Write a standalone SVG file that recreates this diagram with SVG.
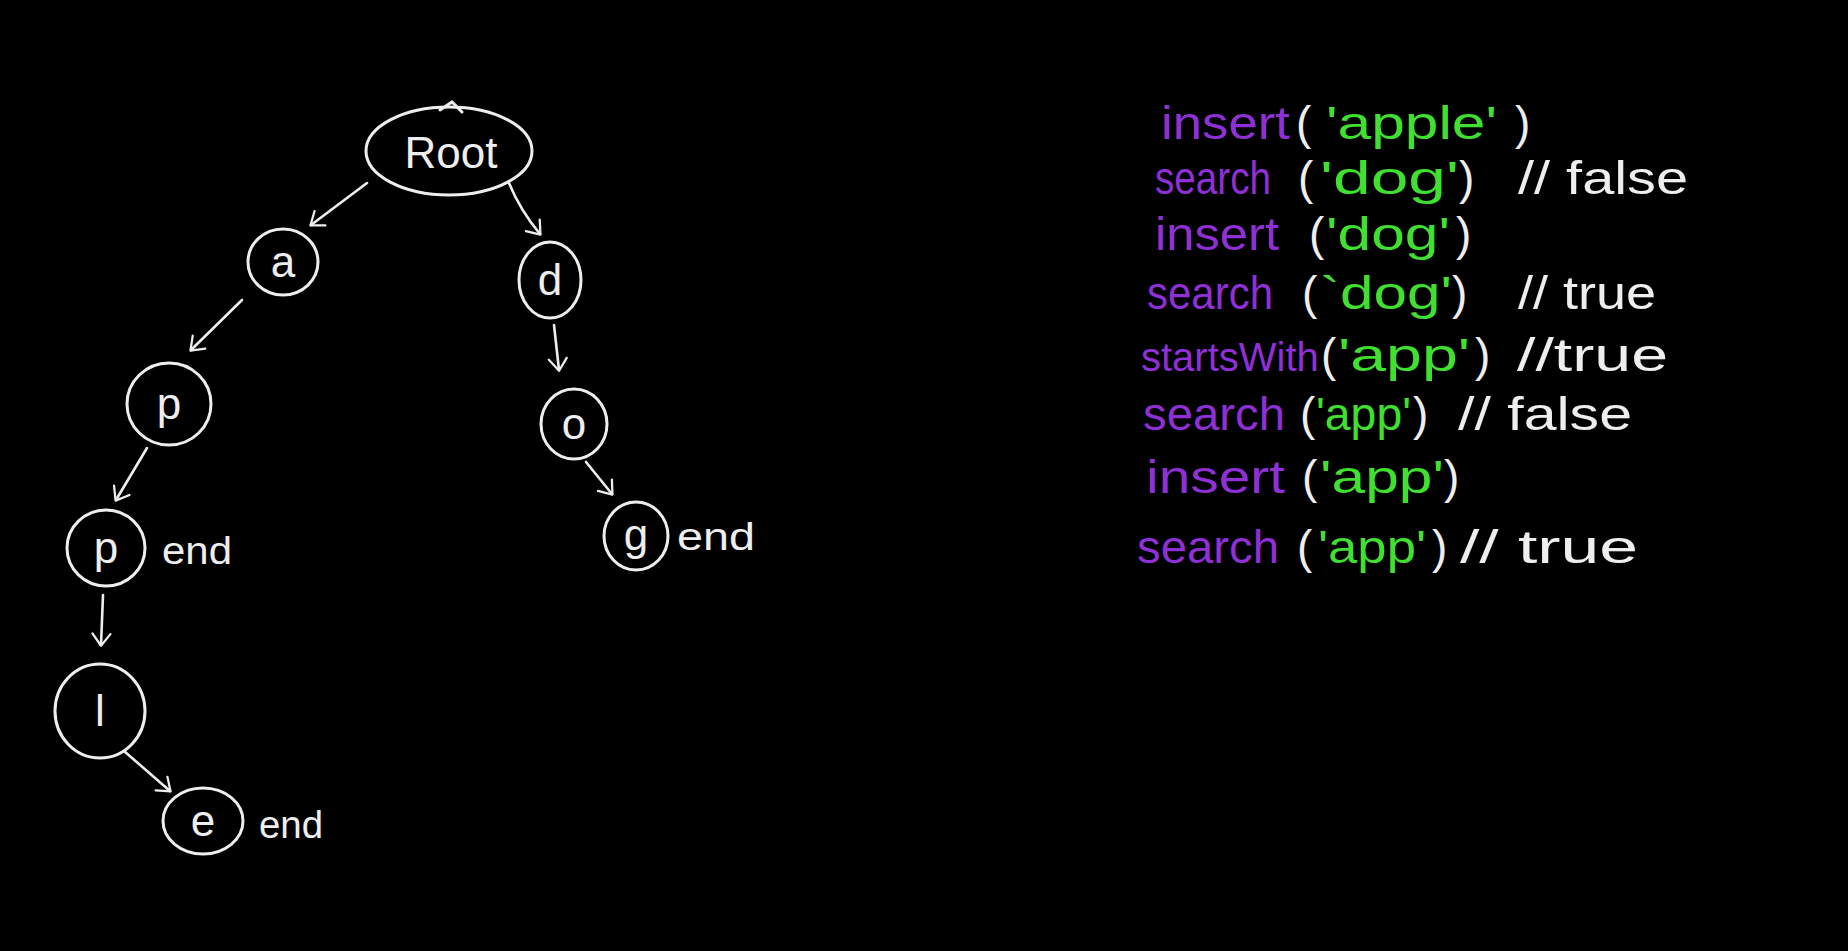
<svg xmlns="http://www.w3.org/2000/svg" width="1848" height="951" viewBox="0 0 1848 951">
<defs>
<marker id="arr" viewBox="0 0 12 12" refX="11" refY="6" markerWidth="9" markerHeight="9" markerUnits="userSpaceOnUse" orient="auto" overflow="visible">
<path d="M-4,-6 L12,6 L-4,18" fill="none" stroke="#eeeeee" stroke-width="3" stroke-linecap="round" stroke-linejoin="round"/>
</marker>
<style>
.n{fill:none;stroke:#eeeeee;stroke-width:3}
.t{fill:#eeeeee;font-family:"Liberation Sans",Arial,sans-serif;font-size:44px;text-anchor:middle}
.e{fill:#eeeeee;font-family:"Liberation Sans",Arial,sans-serif;font-size:38px}
.c{fill:none;stroke:#eeeeee;stroke-width:2.6;stroke-linecap:round;marker-end:url(#arr)}
.code{font-family:"Liberation Sans",Arial,sans-serif;font-size:46px}
.p{fill:#8f2fd6}
.g{fill:#3fe02f}
.w{fill:#eeeeee}
</style>
</defs>
<rect x="0" y="0" width="1848" height="951" fill="#000000"/>
<g id="connectors">
<path class="c" d="M367,183 L311,225"/>
<path class="c" d="M509,183 Q520,210 540,234"/>
<path class="c" d="M242,300 L191,350"/>
<path class="c" d="M147,448 L116,500"/>
<path class="c" d="M103,595 L101,645"/>
<path class="c" d="M124,751 L170,791"/>
<path class="c" d="M554,325 L559,370"/>
<path class="c" d="M586,462 L612,494"/>
</g>
<g id="node-root">
<ellipse class="n" cx="449" cy="151" rx="83" ry="44"/>
<path class="n" d="M440,110 L452,102 L462,112" stroke-linecap="round"/>
<text class="t" x="451" y="168">Root</text>
</g>
<g id="node-a">
<ellipse class="n" cx="283" cy="262" rx="35" ry="33"/>
<text class="t" x="283" y="277">a</text>
</g>
<g id="node-p1">
<ellipse class="n" cx="169" cy="404" rx="42" ry="41"/>
<text class="t" x="169" y="419">p</text>
</g>
<g id="node-p2">
<ellipse class="n" cx="106" cy="548" rx="39" ry="38"/>
<text class="t" x="106" y="563">p</text>
<text class="e" x="162" y="564" textLength="70" lengthAdjust="spacingAndGlyphs">end</text>
</g>
<g id="node-l">
<ellipse class="n" cx="100" cy="711" rx="45" ry="47"/>
<text class="t" x="100" y="726">l</text>
</g>
<g id="node-e">
<ellipse class="n" cx="203" cy="821" rx="40" ry="33"/>
<text class="t" x="203" y="836">e</text>
<text class="e" x="259" y="838" textLength="64" lengthAdjust="spacingAndGlyphs">end</text>
</g>
<g id="node-d">
<ellipse class="n" cx="550" cy="280" rx="31" ry="38"/>
<text class="t" x="550" y="295">d</text>
</g>
<g id="node-o">
<ellipse class="n" cx="574" cy="424" rx="33" ry="35"/>
<text class="t" x="574" y="439">o</text>
</g>
<g id="node-g">
<ellipse class="n" cx="636" cy="536" rx="32" ry="34"/>
<text class="t" x="636" y="550">g</text>
<text class="e" x="677" y="550" textLength="78" lengthAdjust="spacingAndGlyphs">end</text>
</g>
<g id="code" class="code">
<text y="139"><tspan class="p" x="1161" textLength="129" lengthAdjust="spacingAndGlyphs">insert</tspan><tspan class="w" x="1296">(</tspan><tspan class="g" x="1326" textLength="171" lengthAdjust="spacingAndGlyphs">'apple'</tspan><tspan class="w" x="1515">)</tspan></text>
<text y="194"><tspan class="p" x="1155" textLength="116" lengthAdjust="spacingAndGlyphs">search</tspan><tspan class="w" x="1298">(</tspan><tspan class="g" x="1320" textLength="139" lengthAdjust="spacingAndGlyphs">'dog'</tspan><tspan class="w" x="1459">)</tspan><tspan class="w" x="1518" textLength="170" lengthAdjust="spacingAndGlyphs">// false</tspan></text>
<text y="250"><tspan class="p" x="1155" textLength="124" lengthAdjust="spacingAndGlyphs">insert</tspan><tspan class="w" x="1309">(</tspan><tspan class="g" x="1326" textLength="124" lengthAdjust="spacingAndGlyphs">'dog'</tspan><tspan class="w" x="1456">)</tspan></text>
<text y="309"><tspan class="p" x="1147" textLength="126" lengthAdjust="spacingAndGlyphs">search</tspan><tspan class="w" x="1302">(</tspan><tspan class="g" x="1320" textLength="132" lengthAdjust="spacingAndGlyphs">`dog'</tspan><tspan class="w" x="1452">)</tspan><tspan class="w" x="1518" textLength="138" lengthAdjust="spacingAndGlyphs">// true</tspan></text>
<text y="371"><tspan class="p" x="1141" font-size="40">startsWith</tspan><tspan class="w" x="1321">(</tspan><tspan class="g" x="1338" textLength="132" lengthAdjust="spacingAndGlyphs">'app'</tspan><tspan class="w" x="1475">)</tspan><tspan class="w" x="1517" textLength="151" lengthAdjust="spacingAndGlyphs">//true</tspan></text>
<text y="430"><tspan class="p" x="1143" textLength="142" lengthAdjust="spacingAndGlyphs">search</tspan><tspan class="w" x="1300">(</tspan><tspan class="g" x="1316" textLength="95" lengthAdjust="spacingAndGlyphs">'app'</tspan><tspan class="w" x="1413">)</tspan><tspan class="w" x="1458" textLength="174" lengthAdjust="spacingAndGlyphs">// false</tspan></text>
<text y="493"><tspan class="p" x="1146" textLength="139" lengthAdjust="spacingAndGlyphs">insert</tspan><tspan class="w" x="1302">(</tspan><tspan class="g" x="1320" textLength="124" lengthAdjust="spacingAndGlyphs">'app'</tspan><tspan class="w" x="1444">)</tspan></text>
<text y="563"><tspan class="p" x="1137" textLength="142" lengthAdjust="spacingAndGlyphs">search</tspan><tspan class="w" x="1297">(</tspan><tspan class="g" x="1318" textLength="108" lengthAdjust="spacingAndGlyphs">'app'</tspan><tspan class="w" x="1432">)</tspan><tspan class="w" x="1460" textLength="178" lengthAdjust="spacingAndGlyphs">// true</tspan></text>
</g>
</svg>
